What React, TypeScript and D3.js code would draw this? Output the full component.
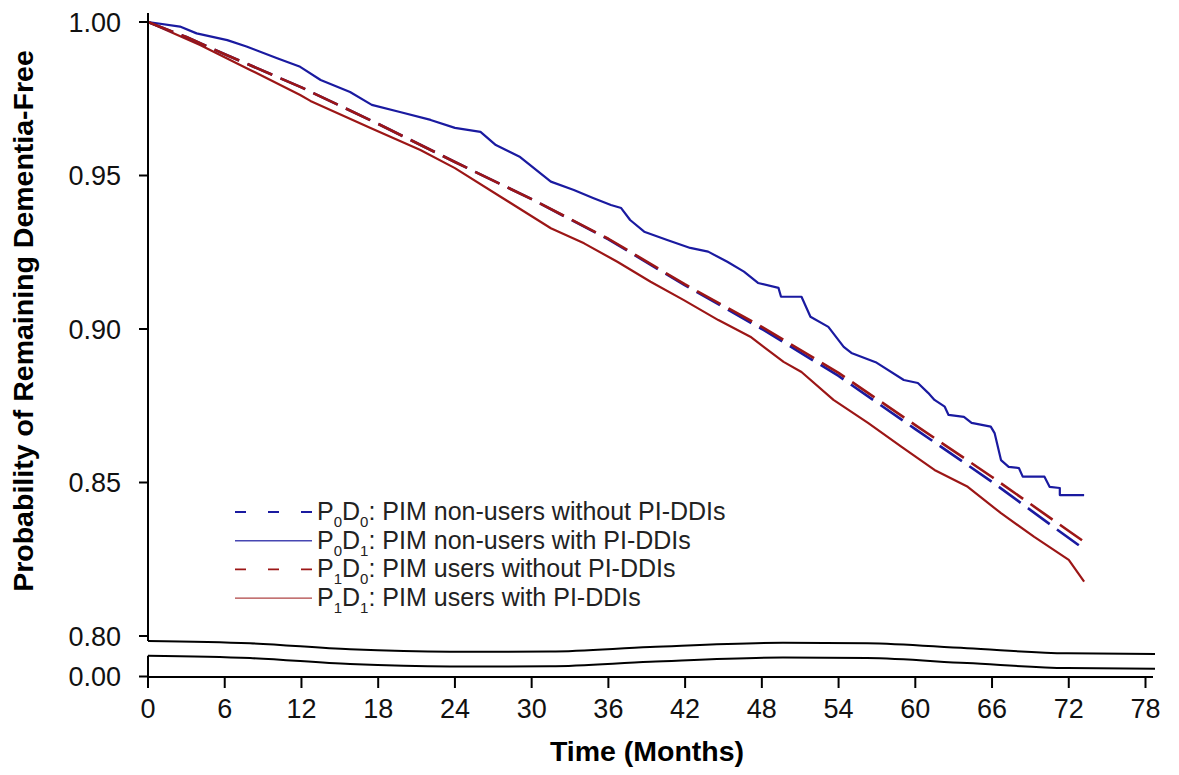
import React from "react";
import * as d3 from "d3";

// ---- Data (months, survival probability) ----
const xTicks = [0, 6, 12, 18, 24, 30, 36, 42, 48, 54, 60, 66, 72, 78];
const yTicksUpper = [0.8, 0.85, 0.9, 0.95, 1.0];
const yTickLabelsUpper = ["0.80", "0.85", "0.90", "0.95", "1.00"];
const yTickLower = "0.00";

const p0d0Months = [0, 3, 6, 12, 18, 24, 30, 36, 42, 48, 54, 60, 66, 72, 73.2];
const p0d0Values = [1.0, 0.9951, 0.9895, 0.9787, 0.9668, 0.9544, 0.9423, 0.9292, 0.9142, 0.9000, 0.8847, 0.8674, 0.8502, 0.8319, 0.8283];

const p1d0Months = [0, 3, 6, 12, 18, 24, 30, 36, 42, 48, 54, 60, 66, 72, 73.2];
const p1d0Values = [1.0, 0.9951, 0.9895, 0.9787, 0.9668, 0.9544, 0.9423, 0.9294, 0.9145, 0.9007, 0.8857, 0.8687, 0.8518, 0.8342, 0.8307];

const p0d1Months = [0, 2.5, 3.8, 6.2, 7.7, 10.1, 11.9, 13.5, 15.8, 17.5, 19.7, 22.1, 24.0, 26.0, 27.2, 29.1, 31.5, 33.3, 34.8, 36.2, 37.0, 37.7, 38.8, 40.6, 42.4, 43.8, 45.3, 46.6, 47.7, 49.3, 49.5, 51.1, 51.8, 53.2, 54.4, 55.0, 56.9, 59.1, 60.2, 61.0, 61.5, 62.3, 62.6, 63.8, 64.4, 65.9, 66.2, 66.7, 67.3, 68.1, 68.4, 70.1, 70.5, 71.3, 71.3, 73.2];
const p0d1Values = [1.0, 0.9985, 0.9963, 0.9941, 0.9920, 0.9882, 0.9854, 0.9811, 0.9772, 0.9730, 0.9707, 0.9681, 0.9655, 0.9642, 0.9599, 0.9560, 0.9480, 0.9453, 0.9427, 0.9404, 0.9394, 0.9355, 0.9317, 0.9290, 0.9264, 0.9252, 0.9219, 0.9187, 0.9150, 0.9134, 0.9105, 0.9105, 0.9040, 0.9007, 0.8942, 0.8922, 0.8892, 0.8834, 0.8824, 0.8792, 0.8769, 0.8747, 0.8720, 0.8714, 0.8694, 0.8682, 0.8661, 0.8573, 0.8551, 0.8547, 0.8519, 0.8519, 0.8486, 0.8482, 0.8459, 0.8459];

const p1d1Months = [0, 4.07, 7.99, 11.9, 12.7, 17.4, 21.3, 24.0, 27.6, 31.5, 34.1, 36.7, 39.3, 41.9, 44.6, 47.1, 49.7, 51.1, 53.6, 56.3, 58.9, 61.5, 64.1, 66.7, 69.3, 72.0, 73.2];
const p1d1Values = [1.0, 0.9925, 0.9844, 0.9762, 0.9743, 0.9655, 0.9583, 0.9524, 0.9430, 0.9328, 0.9279, 0.9219, 0.9154, 0.9094, 0.9029, 0.8975, 0.8893, 0.8860, 0.8769, 0.8694, 0.8617, 0.8541, 0.8486, 0.8400, 0.8323, 0.8248, 0.8177];

const BLUE = "#1a1aa0";
const RED = "#9c1616";
const FONT = "'Liberation Sans', Arial, Helvetica, sans-serif";

type Series = { key: string; months: number[]; values: number[]; color: string; dashed: boolean; width: number };
const series: Series[] = [
  { key: "p0d1", months: p0d1Months, values: p0d1Values, color: BLUE, dashed: false, width: 2.2 },
  { key: "p1d1", months: p1d1Months, values: p1d1Values, color: RED, dashed: false, width: 2.2 },
  { key: "p0d0", months: p0d0Months, values: p0d0Values, color: BLUE, dashed: true, width: 2.6 },
  { key: "p1d0", months: p1d0Months, values: p1d0Values, color: RED, dashed: true, width: 2.6 },
];

const legendItems = [
  { p: "0", d: "0", text: "PIM non-users without PI-DDIs", color: BLUE, dashed: true },
  { p: "0", d: "1", text: "PIM non-users with PI-DDIs", color: BLUE, dashed: false },
  { p: "1", d: "0", text: "PIM users without PI-DDIs", color: RED, dashed: true },
  { p: "1", d: "1", text: "PIM users with PI-DDIs", color: RED, dashed: false },
];

// break wave shape (decoration)
const waveX = [148, 250, 350, 450, 550, 650, 783, 867, 967, 1067, 1155];
const waveY = [641, 643.3, 649.3, 651.7, 651.5, 647, 642.7, 643.3, 648.3, 653.3, 654];

export default function App() {
  const W = 1179, H = 775;
  const x = d3.scaleLinear().domain([0, 78]).range([148, 1145.5]);
  const y = d3.scaleLinear().domain([0.8, 1.0]).range([636, 22]);
  const yZero = 676.5;
  const axisX = 148;
  const axisY = 677;

  const line = d3.line<[number, number]>()
    .x((d) => x(d[0]))
    .y((d) => y(d[1]))
    .curve(d3.curveLinear);

  const wave = d3.line<[number, number]>().curve(d3.curveMonotoneX);
  const topWave: [number, number][] = waveX.map((wx, i) => [wx, waveY[i]]);
  const botWave: [number, number][] = waveX.map((wx, i) => [wx, waveY[i] + 14.8]);

  return (
    <svg width={W} height={H} style={{ position: "absolute", left: 0, top: 0, background: "#fff" }} fontFamily={FONT}>
      <rect x={0} y={0} width={W} height={H} fill="#fff" />
      {series.map((s) => (
        <path
          key={s.key}
          d={line(s.months.map((m, i) => [m, s.values[i]] as [number, number])) || ""}
          fill="none"
          stroke={s.color}
          strokeWidth={s.width}
          strokeDasharray={s.dashed ? "27 9" : undefined}
          strokeLinejoin="round"
        />
      ))}

      <line x1={axisX} x2={axisX} y1={13} y2={waveY[0]} stroke="#000" strokeWidth={2} />
      <line x1={axisX} x2={axisX} y1={botWave[0][1]} y2={axisY} stroke="#000" strokeWidth={2} />
      <path d={wave(topWave) || ""} fill="none" stroke="#000" strokeWidth={2} />
      <path d={wave(botWave) || ""} fill="none" stroke="#000" strokeWidth={2} />
      <line x1={axisX - 1} x2={1153} y1={axisY} y2={axisY} stroke="#000" strokeWidth={2} />

      {yTicksUpper.map((t, i) => (
        <g key={"yt" + i}>
          <line x1={139} x2={axisX} y1={y(t)} y2={y(t)} stroke="#000" strokeWidth={2} />
          <text x={121} y={y(t) + 9.5} textAnchor="end" fontSize={27} fill="#111">{yTickLabelsUpper[i]}</text>
        </g>
      ))}
      <line x1={139} x2={axisX} y1={yZero} y2={yZero} stroke="#000" strokeWidth={2} />
      <text x={121} y={yZero + 9.5} textAnchor="end" fontSize={27} fill="#111">{yTickLower}</text>

      {xTicks.map((t) => (
        <g key={"xt" + t}>
          <line x1={x(t)} x2={x(t)} y1={axisY} y2={688} stroke="#000" strokeWidth={2} />
          <text x={x(t)} y={718} textAnchor="middle" fontSize={27} fill="#111">{t}</text>
        </g>
      ))}

      <text x={647} y={761} textAnchor="middle" fontSize={28.5} fontWeight="bold" fill="#000">Time (Months)</text>
      <text transform="translate(33,321) rotate(-90)" textAnchor="middle" fontSize={28.5} fontWeight="bold" fill="#000">
        Probability of Remaining Dementia-Free
      </text>

      {legendItems.map((it, i) => {
        const ly = 512 + i * 28.7;
        return (
          <g key={"lg" + i}>
            <line
              x1={235}
              x2={312}
              y1={ly}
              y2={ly}
              stroke={it.color}
              strokeWidth={it.dashed ? 1.8 : 1.4}
              strokeDasharray={it.dashed ? "11 22" : undefined}
              opacity={it.dashed ? 1 : 0.8}
            />
            <text x={317} y={ly + 8} fontSize={25} fill="#222">
              P<tspan fontSize={15} dy={7}>{it.p}</tspan>
              <tspan dy={-7}>D</tspan>
              <tspan fontSize={15} dy={7}>{it.d}</tspan>
              <tspan dy={-7}>: {it.text}</tspan>
            </text>
          </g>
        );
      })}
    </svg>
  );
}
